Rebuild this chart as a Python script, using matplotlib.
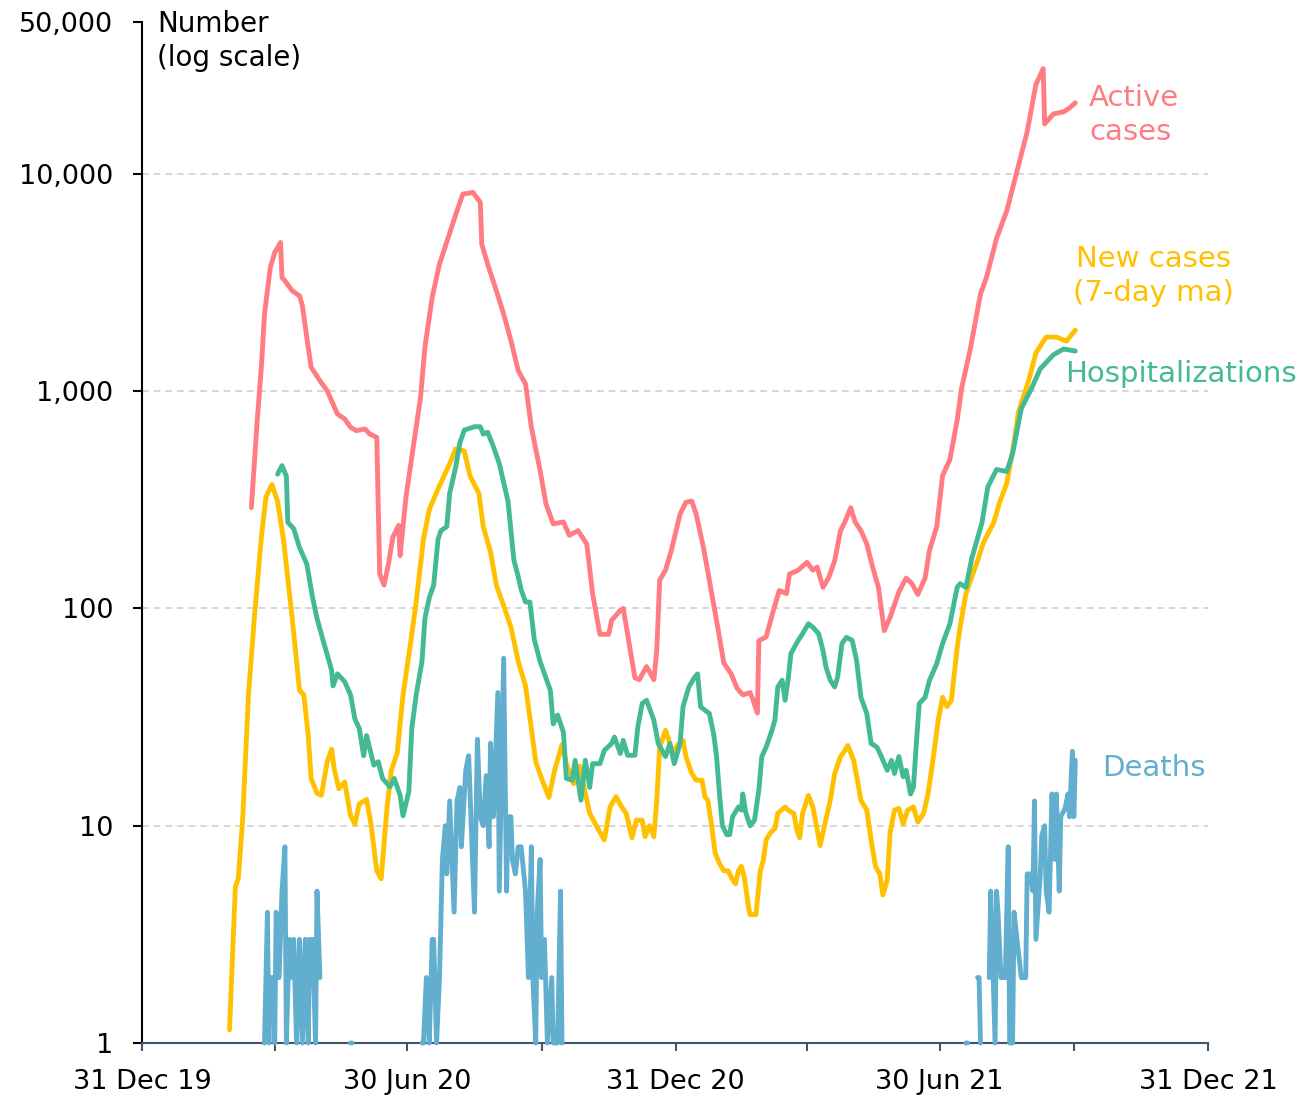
import matplotlib
matplotlib.use('Agg')
import matplotlib.pyplot as plt
import matplotlib.ticker as mticker
import numpy as np
import pandas as pd

# Dane: dni liczone od 31 grudnia 2019
start = pd.Timestamp('2019-12-31')

active_days = [75, 79, 82, 84, 88, 91, 95, 96, 98, 103, 108, 110, 113, 116, 122, 127, 134, 139, 143, 147,
               153, 156, 161, 163, 166, 169, 172, 176, 177, 181, 186, 191, 194, 199, 204, 210, 216, 220, 227, 232,
               233, 237, 243, 248, 253, 258, 263, 267, 273, 277, 282, 289, 293, 299, 305, 309, 314, 320, 322, 328,
               330, 333, 338, 341, 346, 351, 353, 355, 359, 363, 369, 373, 377, 380, 385, 389, 394, 399, 404, 408,
               412, 417, 419, 422, 423, 428, 433, 437, 442, 444, 450, 456, 460, 463, 467, 471, 475, 479, 482, 486,
               489, 493, 497, 501, 505, 509, 513, 519, 524, 528, 532, 537, 540, 545, 549, 554, 559, 562, 568, 575,
               579, 586, 593, 600, 607, 613, 618, 619, 625, 632, 636, 640]
active_vals = [291, 731, 1337, 2265, 3710, 4345, 4835, 3336, 3221, 2897, 2747, 2472, 1766, 1288, 1117, 1005, 785, 745, 682, 658,
               670, 636, 613, 144, 128, 160, 213, 241, 175, 325, 552, 937, 1591, 2704, 3845, 5096, 6760, 8070, 8220, 7385,
               4750, 3845, 2897, 2265, 1707, 1242, 1079, 682, 431, 303, 245, 250, 217, 228, 198, 117, 76, 76, 88, 98,
               100, 76, 48, 47, 54, 47, 64, 135, 150, 185, 272, 308, 312, 272, 191, 135, 88, 56, 50, 43,
               40, 41, 38, 33, 71, 74, 98, 121, 117, 144, 150, 163, 150, 155, 125, 139, 166, 228, 250, 291,
               250, 228, 198, 155, 125, 79, 91, 119, 138, 130, 116, 138, 185, 238, 409, 484, 736, 1029, 1563, 2806,
               3320, 5045, 6760, 10280, 15630, 25800, 30500, 16980, 18880, 19300, 20100, 21230]

new_days = [60, 64, 66, 69, 73, 77, 82, 85, 89, 93, 97, 103, 108, 111, 114, 116, 120, 123, 127, 130,
            132, 135, 139, 143, 146, 149, 154, 157, 161, 164, 168, 171, 175, 179, 184, 188, 193, 197, 203, 207,
            211, 215, 221, 225, 231, 234, 239, 243, 248, 253, 258, 263, 267, 270, 274, 279, 283, 288, 291, 296,
            300, 305, 307, 313, 317, 321, 325, 329, 332, 336, 339, 343, 345, 348, 351, 353, 355, 359, 362, 364,
            368, 371, 373, 377, 380, 384, 386, 388, 391, 393, 396, 399, 402, 404, 407, 409, 411, 413, 416, 417,
            421, 424, 426, 428, 431, 434, 436, 441, 443, 447, 449, 451, 453, 457, 460, 463, 465, 468, 472, 475,
            479, 482, 484, 488, 491, 493, 497, 500, 503, 506, 508, 511, 513, 516, 519, 522, 525, 529, 532, 536,
            539, 543, 546, 549, 552, 555, 559, 561, 565, 573, 577, 584, 588, 593, 597, 601, 608, 613, 620, 627,
            634, 640]
new_vals = [1.15, 5.2, 5.7, 10.6, 40, 90, 218, 325, 372, 311, 208, 90, 42, 40, 26, 16.5, 14.1, 13.8, 19.7, 22.5,
            18, 14.8, 15.9, 11.1, 10.2, 12.6, 13.2, 10.2, 6.2, 5.7, 12.1, 18, 21.6, 40, 68, 107, 208, 285, 355, 406,
            464, 542, 530, 406, 339, 238, 182, 128, 103, 82, 57, 44, 28, 19.7, 16.5, 13.5, 18, 23.6, 19.3, 15.6,
            18.8, 13.1, 11.4, 9.6, 8.6, 12.2, 13.6, 12.2, 11.4, 8.8, 10.6, 10.6, 8.9, 10, 8.9, 13.1, 23, 27.5, 23.9, 21.5,
            23.9, 24.7, 20.8, 17.4, 16.2, 16.2, 13.6, 13.1, 9.6, 7.5, 6.7, 6.2, 6.2, 5.8, 5.4, 6.2, 6.5, 5.8, 4.2, 3.9,
            3.9, 6.2, 6.9, 8.6, 9.3, 9.7, 11.4, 12.2, 11.8, 11.4, 9.6, 8.8, 11.4, 13.8, 12.2, 9.6, 8.1, 10, 13.1, 17.4,
            20.8, 22.2, 23.4, 20, 15.6, 13.1, 11.8, 8.6, 6.5, 6, 4.8, 5.6, 9.3, 11.8, 12, 10.2, 11.8, 12.2, 10.4, 11.4,
            14, 21.5, 30.6, 39, 35.3, 37.8, 66, 82, 117, 166, 201, 248, 306, 377, 527, 800, 1118, 1499, 1774, 1774,
            1700, 1910]

hosp_days = [93, 96, 99, 100, 104, 108, 113, 117, 120, 124, 130, 131, 134, 139, 143, 146, 149, 152, 154, 159,
             162, 165, 170, 173, 177, 179, 183, 185, 188, 192, 194, 197, 200, 203, 205, 209, 211, 215, 218, 221,
             228, 232, 234, 237, 241, 245, 249, 251, 255, 258, 260, 263, 266, 269, 273, 276, 280, 282, 285, 289,
             291, 295, 297, 299, 301, 304, 307, 309, 314, 317, 322, 324, 328, 330, 333, 338, 340, 343, 346, 351,
             354, 359, 362, 365, 369, 371, 375, 379, 381, 383, 386, 389, 392, 394, 396, 398, 401, 403, 405, 409,
             411, 412, 414, 417, 420, 423, 425, 428, 432, 434, 436, 439, 441, 443, 445, 450, 453, 457, 460, 464,
             467, 469, 472, 475, 477, 480, 483, 487, 490, 493, 497, 500, 504, 507, 511, 514, 516, 519, 522, 524,
             527, 529, 531, 533, 537, 540, 545, 549, 554, 559, 561, 565, 569, 576, 580, 586, 593, 597, 603, 610,
             616, 625, 632, 640]
hosp_vals = [415, 454, 406, 249, 233, 191, 160, 112, 90, 72, 52, 44, 50, 46, 40, 31, 28, 21, 26, 19,
             19.7, 16.5, 15.1, 16.5, 13.8, 11.1, 14.4, 28, 40, 57, 90, 112, 128, 208, 228, 238, 339, 444, 579, 662,
             686, 686, 634, 647, 555, 464, 355, 311, 167, 140, 122, 107, 107, 72, 57, 50, 42, 29.4, 32.3, 26.9,
             16.5, 16.2, 20, 16.2, 13.1, 20, 15, 19.3, 19.3, 22.2, 23.9, 25.6, 21.5, 24.7, 21.1, 21.1, 28.5, 36.5, 37.8, 30.6,
             23.9, 20.8, 23.9, 19.3, 23.9, 35.3, 43.5, 48.3, 50, 35.3, 34, 32.9, 26.5, 20.8, 14, 10, 9.1, 9.1, 11, 12.2,
             11.8, 14, 11.5, 10, 10.6, 14.6, 20.8, 23, 27.5, 30.6, 43.5, 46.7, 37.8, 46.7, 62, 71.3, 76.5, 85, 82, 76.5,
             64, 53.8, 46.7, 43.5, 48.3, 69, 73.6, 71.3, 57.7, 39, 32.9, 23.9, 23, 20.8, 18, 20, 17.4, 20.8, 16.8, 18,
             14, 15, 23.9, 36.5, 39, 46.7, 55.7, 69, 85, 125, 130, 125, 170, 248, 362, 436, 427, 516, 834, 1029,
             1268, 1470, 1563, 1530]

# zgony: brak danych (0) jako NaN, żeby linia się przerywała
nan = np.nan
deaths_days = [84, 86, 87, 88, 90, 91, 92, 94, 96, 98, 99, 101, 103, 104, 106, 108, 110, 112, 114, 115,
               116, 117, 119, 120, 122, 123,
               143, 144, 145,
               192, 193, 195, 197, 199, 200, 202, 204, 206, 208, 209, 211, 214, 216, 218, 219, 222, 224, 228, 230,
               232, 234, 236, 238, 239, 241, 244, 245, 248, 250, 251, 253, 254, 256, 258, 260, 263, 265, 267, 268,
               270, 271, 273, 274, 276, 278, 281, 282, 285, 287, 288, 289,
               565, 566, 567, 573, 574, 575, 576, 581, 582, 585, 586, 587, 589, 592, 594, 595, 597, 598, 600, 603,
               606, 607, 609, 611, 612, 613, 616, 617, 619, 620, 622, 624, 626, 627, 629, 630, 633, 635, 636, 638,
               639, 640]
deaths_vals = [1, 4, 1, 2, 2, 1, 4, 2, 5, 8, 1, 3, 2, 3, 1, 3, 1, 3, 1, 3,
               2, 3, 1, 5, 2, nan,
               1, 1, nan,
               1, 1, 2, 1, 3, 3, 1, 2, 7, 10, 6, 13, 4, 13, 15, 8, 18, 21, 4, 25,
               11, 10, 17, 8, 24, 11, 41, 5, 59, 5, 11, 11, 7, 6, 8, 8, 5, 2, 8, 2,
               1, 4, 7, 2, 3, 1, 2, 1, 1, 5, 1, nan,
               1, 1, nan, 2, 2, 1, nan, 2, 5, 1, 5, 4, 2, 2, 8, 1, 1, 4, 3, 2,
               2, 6, 6, 5, 13, 3, 6, 9, 10, 5, 4, 14, 7, 14, 5, 11, 12, 14, 11, 22,
               11, 20]

y_ticks = [1, 10, 100, 1000, 10000, 50000]
y_tick_labels = ['1', '10', '100', '1,000', '10,000', '50,000']
x_ticks = ['2019-12-31', '2020-03-31', '2020-06-30', '2020-09-30', '2020-12-31',
           '2021-03-31', '2021-06-30', '2021-09-30', '2021-12-31']
x_tick_labels = ['31 Dec 19', '', '30 Jun 20', '', '31 Dec 20', '', '30 Jun 21', '', '31 Dec 21']

c_active = '#FF7C82'
c_new = '#FFC000'
c_hosp = '#43B994'
c_deaths = '#62AECF'


def to_dates(days):
    return start + pd.to_timedelta(days, unit='D')


W, H = 1302, 1101
fig = plt.figure(figsize=(W / 100, H / 100), dpi=100)
ax = fig.add_axes([142 / W, 1 - 1043 / H, (1208 - 142) / W, (1043 - 22) / H])

lw = 3.5
ax.plot(to_dates(active_days), active_vals, color=c_active, lw=lw,
        solid_capstyle='round', solid_joinstyle='round', zorder=3)
ax.plot(to_dates(new_days), new_vals, color=c_new, lw=lw,
        solid_capstyle='round', solid_joinstyle='round', zorder=3)
ax.plot(to_dates(hosp_days), hosp_vals, color=c_hosp, lw=lw,
        solid_capstyle='round', solid_joinstyle='round', zorder=3)
ax.plot(to_dates(deaths_days), deaths_vals, color=c_deaths, lw=lw,
        solid_capstyle='round', solid_joinstyle='round', zorder=4, clip_on=False)

ax.set_yscale('log')
ax.set_ylim(1, 50000)
ax.set_xlim(pd.Timestamp('2019-12-31'), pd.Timestamp('2021-12-31'))

ax.yaxis.set_major_locator(mticker.FixedLocator(y_ticks))
ax.yaxis.set_major_formatter(mticker.FixedFormatter(y_tick_labels))
ax.yaxis.set_minor_locator(mticker.NullLocator())
ax.set_xticks(pd.to_datetime(x_ticks))
ax.set_xticklabels(x_tick_labels)
ax.xaxis.set_minor_locator(mticker.NullLocator())

for v in [10, 100, 1000, 10000]:
    ax.axhline(v, color='#d0d0d0', lw=1.2, ls=(0, (4, 3)), zorder=1)

for s in ['top', 'right']:
    ax.spines[s].set_visible(False)
ax.spines['left'].set_color('black')
ax.spines['left'].set_linewidth(1.5)
ax.spines['bottom'].set_color('#44546A')
ax.spines['bottom'].set_linewidth(1.5)

ax.tick_params(axis='y', length=6.5, width=1.5, color='black', labelsize=19.5, pad=14)
ax.tick_params(axis='x', length=6, width=1.5, color='#44546A', labelsize=19.5, pad=13)

# Etykiety serii
def px(x, y):
    return x / W, 1 - y / H

fig.text(*px(157, 41), 'Number\n(log scale)', fontsize=20, ha='left', va='center', linespacing=1.25)
fig.text(*px(1089, 115), 'Active\ncases', fontsize=21, color=c_active, ha='left', va='center', linespacing=1.3)
fig.text(*px(1153, 276), 'New cases\n(7-day ma)', fontsize=21, color=c_new, ha='center', va='center', linespacing=1.3)
fig.text(*px(1065, 374), 'Hospitalizations', fontsize=21, color=c_hosp, ha='left', va='center')
fig.text(*px(1102, 768), 'Deaths', fontsize=21, color=c_deaths, ha='left', va='center')

plt.savefig('out.png', dpi=100)
